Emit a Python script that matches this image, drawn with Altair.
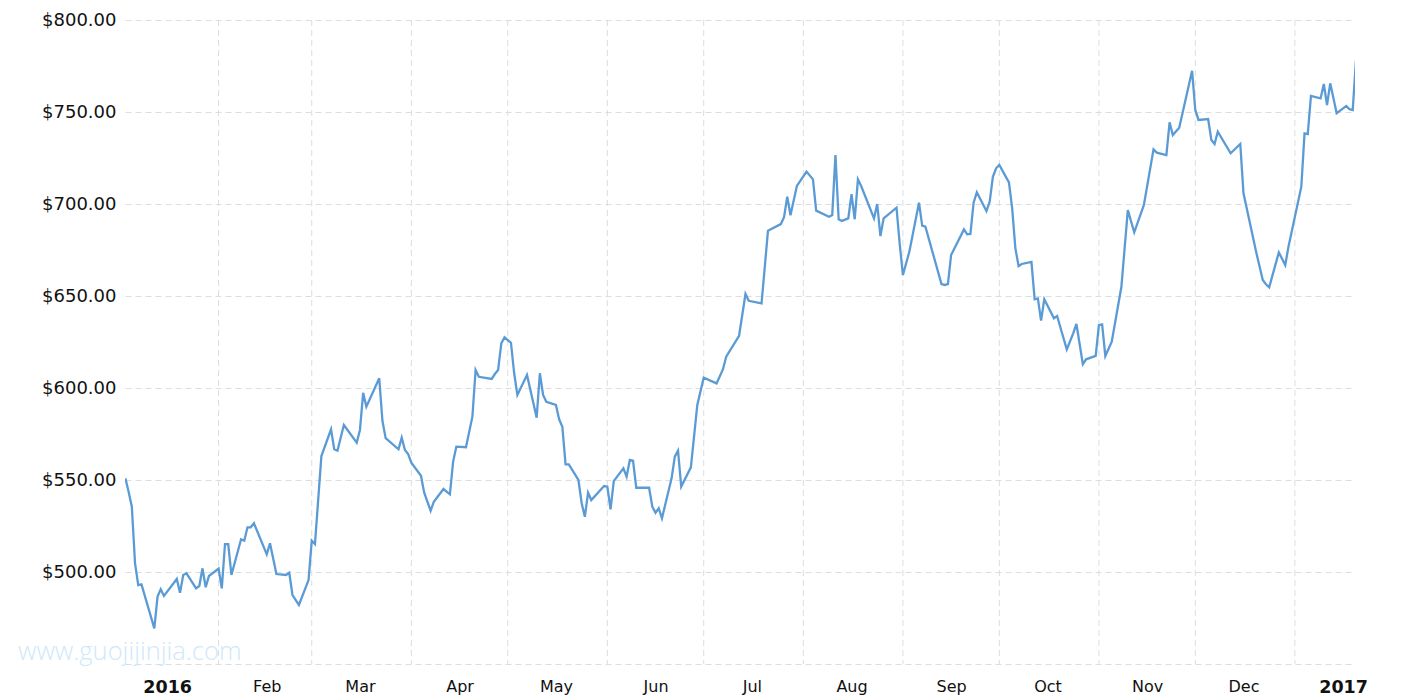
import altair as alt
import pandas as pd

day_offsets = [
    2, 3, 4, 5, 6, 7, 11, 12, 13, 14, 18, 19, 20, 21, 24, 25, 26, 27, 28, 31,
    32, 33, 34, 35, 38, 39, 40, 41, 42, 46, 47, 49, 52, 53, 54, 56, 59, 60, 61, 63,
    66, 67, 68, 70, 74, 75, 76, 77, 81, 82, 83, 87, 88, 89, 90, 91, 94, 95, 97, 98,
    101, 103, 104, 105, 108, 110, 111, 112, 116, 117, 118, 119, 120, 122, 123, 124, 127, 130, 131, 132,
    133, 136, 137, 138, 139, 140, 143, 144, 145, 146, 147, 151, 152, 153, 154, 157, 158, 159, 160, 161,
    165, 166, 167, 168, 169, 172, 173, 174, 175, 178, 180, 182, 186, 188, 189, 193, 195, 196, 200, 202,
    206, 207, 208, 209, 211, 214, 216, 217, 221, 222, 223, 224, 225, 227, 228, 229, 230, 231, 235, 236,
    237, 238, 242, 243, 244, 246, 249, 250, 251, 256, 257, 258, 259, 263, 264, 265, 266, 267, 270, 271,
    272, 273, 274, 277, 278, 279, 280, 281, 284, 285, 286, 287, 288, 291, 292, 293, 295, 297, 298, 300,
    301, 304, 305, 306, 307, 309, 312, 314, 316, 319, 322, 323, 326, 327, 328, 330, 334, 335, 336, 339,
    340, 341, 342, 346, 349, 350, 354, 356, 357, 358, 361, 363, 364, 368, 369, 370, 371, 374, 375, 376,
    377, 379, 382, 383, 384, 385,
]
prices = [
    550.9, 543.6, 535.5, 504.7, 492.9, 493.3, 469.4, 486.6, 490.6, 487.0, 496.2, 488.7, 498.4, 499.3, 491.1, 492.4, 502.0, 491.7, 497.8, 501.8,
    491.1, 515.2, 515.2, 498.4, 517.8, 517.0, 524.3, 524.3, 526.5, 509.6, 515.6, 498.9, 498.4, 499.6, 487.5, 482.1, 495.6, 517.0, 515.2, 563.0,
    577.5, 566.7, 565.9, 579.9, 570.3, 577.2, 597.4, 589.8, 605.3, 582.2, 572.7, 566.7, 573.0, 566.3, 564.1, 559.4, 552.3, 543.1, 533.3, 538.2,
    545.1, 542.2, 560.0, 568.1, 567.8, 584.4, 609.8, 606.1, 604.9, 607.6, 609.8, 624.3, 627.5, 624.6, 608.0, 596.2, 607.1, 583.9, 608.0, 596.2,
    592.5, 590.8, 583.0, 578.9, 558.5, 558.5, 550.0, 537.5, 530.0, 543.1, 539.1, 546.7, 546.4, 534.1, 549.4, 556.3, 551.8, 560.9, 560.5, 545.8,
    545.8, 535.5, 532.2, 534.6, 529.2, 550.9, 562.7, 565.9, 546.4, 556.9, 590.8, 605.6, 602.5, 610.2, 617.0, 628.4, 651.1, 647.4, 646.0, 685.5,
    689.1, 692.8, 704.0, 693.9, 709.8, 717.6, 713.4, 696.4, 693.1, 694.0, 726.6, 691.7, 690.8, 692.2, 705.3, 691.7, 713.4, 709.8, 692.2, 700.0,
    682.6, 692.2, 698.0, 678.3, 661.4, 674.1, 700.7, 688.2, 687.7, 656.5, 656.0, 656.5, 672.3, 686.2, 683.5, 683.7, 700.7, 706.4, 696.2, 701.2,
    714.8, 719.4, 721.2, 711.7, 697.8, 675.9, 666.3, 667.4, 668.5, 648.2, 648.7, 636.6, 648.2, 637.9, 639.1, 633.0, 621.0, 629.7, 634.8, 613.0,
    615.6, 617.5, 634.2, 634.6, 617.4, 625.2, 655.0, 696.7, 684.6, 699.5, 729.7, 727.9, 726.6, 744.4, 737.5, 741.5, 772.4, 751.1, 745.7, 746.2,
    734.8, 732.6, 739.3, 727.6, 732.6, 705.8, 673.5, 658.7, 656.4, 654.7, 673.7, 666.8, 676.8, 709.4, 738.4, 738.0, 758.7, 757.4, 765.2, 753.8,
    765.6, 749.3, 753.3, 751.5, 751.1, 778.0,
]

month_starts = [
    "2016-02-01", "2016-03-01", "2016-04-01", "2016-05-01", "2016-06-01", "2016-07-01",
    "2016-08-01", "2016-09-01", "2016-10-01", "2016-11-01", "2016-12-01", "2017-01-01",
]
label_months = [(2016, m) for m in range(1, 13)] + [(2017, 1)]
y_ticks = [450, 500, 550, 600, 650, 700, 750, 800]
watermark = "www.guojijinjia.com"

base = pd.Timestamp("2016-01-01")
dates = [(base + pd.Timedelta(days=d)).strftime("%Y-%m-%dT%H:%M:%S") for d in day_offsets]
df = pd.DataFrame({"date": dates, "price": prices})
grid_df = pd.DataFrame({"m": [s + "T00:00:00" for s in month_starts]})

x_scale = alt.Scale(
    domain=[
        alt.DateTime(year=2016, month=1, date=2, hours=21),
        alt.DateTime(year=2017, month=1, date=19, hours=17),
    ]
)
y_scale = alt.Scale(domain=[450, 800], nice=False, zero=False)

is_jan = "month(datum.value) == 0"

x_axis = alt.Axis(
    values=[alt.DateTime(year=y, month=m, date=16) for y, m in label_months],
    labelExpr=f"{is_jan} ? timeFormat(datum.value, '%Y') : timeFormat(datum.value, '%b')",
    labelFontWeight={"condition": {"test": is_jan, "value": "bold"}, "value": "normal"},
    labelFontSize={"condition": {"test": is_jan, "value": 17.5}, "value": 16},
    labelFont="DejaVu Sans",
    labelColor="#111111",
    labelPadding=14,
    grid=False,
    domain=False,
    ticks=False,
    title=None,
    labelOverlap=False,
)
y_axis = alt.Axis(
    values=y_ticks,
    labelExpr="datum.value == 450 ? '' : format(datum.value, '$.2f')",
    labelFont="DejaVu Sans",
    labelFontSize=18,
    labelColor="#111111",
    labelPadding=9,
    grid=True,
    gridColor="#dddddd",
    gridDash=[6, 4],
    gridWidth=1,
    domain=False,
    ticks=False,
    title=None,
)

rules = alt.Chart(grid_df).mark_rule(
    color="#dddddd", strokeDash=[6, 4], strokeWidth=1
).encode(x=alt.X("m:T", scale=x_scale, axis=x_axis))

wm = alt.Chart(pd.DataFrame({"t": [watermark]})).mark_text(
    align="left", baseline="alphabetic", fontSize=25.5, font="Open Sans",
    fontWeight=300, color="#cfe8fa"
).encode(x=alt.value(-107), y=alt.value(640), text="t:N")

line = alt.Chart(df).mark_line(
    color="#5b9bd5", strokeWidth=2.3, clip=True
).encode(
    x=alt.X("date:T", scale=x_scale, axis=x_axis),
    y=alt.Y("price:Q", scale=y_scale, axis=y_axis),
)

chart = alt.layer(rules, wm, line).properties(
    width=1230,
    height=644,
    autosize=alt.AutoSizeParams(type="none"),
    padding={"left": 117, "top": 12, "right": 20, "bottom": 34},
).configure_view(stroke=None)

chart.save("out.html", embed_options={"renderer": "svg", "actions": False})
